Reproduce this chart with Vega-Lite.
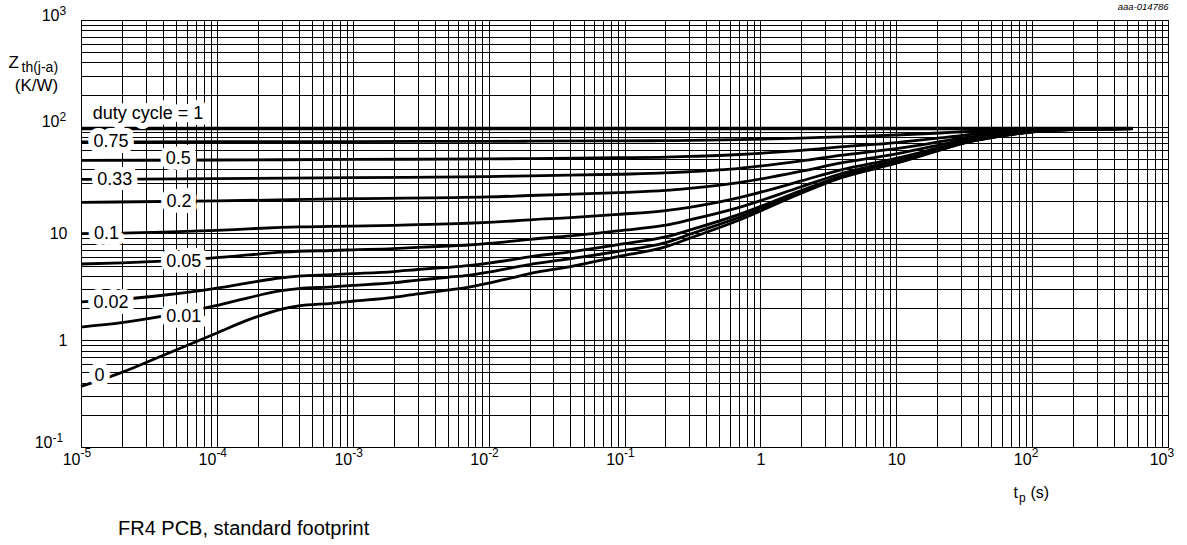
{
  "$schema": "https://vega.github.io/schema/vega-lite/v6.json",
  "width": 1087,
  "height": 427,
  "autosize": {"type": "none"},
  "padding": {"left": 81, "top": 20, "right": 19, "bottom": 98},
  "background": "white",
  "title": {"text": "FR4 PCB, standard footprint", "orient": "bottom", "anchor": "start", "frame": "group", "fontSize": 20, "fontWeight": "normal", "color": "#000", "font": "Liberation Sans", "dx": 37, "offset": 16},
  "config": {
    "font": "Liberation Sans",
    "view": {"stroke": "#000", "strokeWidth": 1},
    "axis": {"labelColor": "#000", "titleColor": "#000", "titleFontWeight": "normal", "labelFont": "Liberation Sans", "titleFont": "Liberation Sans"}
  },
  "datasets": {
    "curves": [
      {"d": "0", "t": 0.00001, "z": 0.37}, {"d": "0", "t": 0.00002, "z": 0.5}, {"d": "0", "t": 0.00004, "z": 0.72}, {"d": "0", "t": 0.0001, "z": 1.17}, {"d": "0", "t": 0.00017, "z": 1.55}, {"d": "0", "t": 0.0003, "z": 1.96}, {"d": "0", "t": 0.0004, "z": 2.1}, {"d": "0", "t": 0.0007, "z": 2.22}, {"d": "0", "t": 0.001, "z": 2.32}, {"d": "0", "t": 0.002, "z": 2.52}, {"d": "0", "t": 0.003, "z": 2.72}, {"d": "0", "t": 0.005, "z": 2.95}, {"d": "0", "t": 0.007, "z": 3.13}, {"d": "0", "t": 0.01, "z": 3.42}, {"d": "0", "t": 0.015, "z": 3.85}, {"d": "0", "t": 0.02, "z": 4.2}, {"d": "0", "t": 0.04, "z": 4.9}, {"d": "0", "t": 0.09, "z": 6.07}, {"d": "0", "t": 0.2, "z": 7.5}, {"d": "0", "t": 0.3, "z": 9.0}, {"d": "0", "t": 0.7, "z": 13.4}, {"d": "0", "t": 2, "z": 23.8}, {"d": "0", "t": 3.85, "z": 32.9}, {"d": "0", "t": 10, "z": 45.5}, {"d": "0", "t": 21, "z": 60.5}, {"d": "0", "t": 31, "z": 70}, {"d": "0", "t": 50, "z": 79}, {"d": "0", "t": 81, "z": 86.8}, {"d": "0", "t": 128, "z": 91.8}, {"d": "0", "t": 224, "z": 94.5}, {"d": "0", "t": 550, "z": 96},
      {"d": "0.01", "t": 0.00001, "z": 1.33}, {"d": "0.01", "t": 0.00002, "z": 1.46}, {"d": "0.01", "t": 0.00004, "z": 1.68}, {"d": "0.01", "t": 0.0001, "z": 2.12}, {"d": "0.01", "t": 0.00017, "z": 2.5}, {"d": "0.01", "t": 0.0003, "z": 2.91}, {"d": "0.01", "t": 0.0004, "z": 3.04}, {"d": "0.01", "t": 0.0007, "z": 3.16}, {"d": "0.01", "t": 0.001, "z": 3.26}, {"d": "0.01", "t": 0.002, "z": 3.46}, {"d": "0.01", "t": 0.003, "z": 3.66}, {"d": "0.01", "t": 0.005, "z": 3.89}, {"d": "0.01", "t": 0.007, "z": 4.06}, {"d": "0.01", "t": 0.01, "z": 4.35}, {"d": "0.01", "t": 0.015, "z": 4.78}, {"d": "0.01", "t": 0.02, "z": 5.12}, {"d": "0.01", "t": 0.04, "z": 5.82}, {"d": "0.01", "t": 0.09, "z": 6.8}, {"d": "0.01", "t": 0.2, "z": 8.2}, {"d": "0.01", "t": 0.3, "z": 9.8}, {"d": "0.01", "t": 0.7, "z": 14.2}, {"d": "0.01", "t": 2, "z": 24.5}, {"d": "0.01", "t": 3.85, "z": 33.5}, {"d": "0.01", "t": 10, "z": 46.0}, {"d": "0.01", "t": 21, "z": 60.9}, {"d": "0.01", "t": 31, "z": 70.3}, {"d": "0.01", "t": 50, "z": 79.2}, {"d": "0.01", "t": 81, "z": 86.9}, {"d": "0.01", "t": 128, "z": 91.9}, {"d": "0.01", "t": 224, "z": 94.5}, {"d": "0.01", "t": 550, "z": 96},
      {"d": "0.02", "t": 0.00001, "z": 2.29}, {"d": "0.02", "t": 0.00002, "z": 2.42}, {"d": "0.02", "t": 0.00004, "z": 2.64}, {"d": "0.02", "t": 0.0001, "z": 3.08}, {"d": "0.02", "t": 0.00017, "z": 3.45}, {"d": "0.02", "t": 0.0003, "z": 3.85}, {"d": "0.02", "t": 0.0004, "z": 3.99}, {"d": "0.02", "t": 0.0007, "z": 4.11}, {"d": "0.02", "t": 0.001, "z": 4.2}, {"d": "0.02", "t": 0.002, "z": 4.4}, {"d": "0.02", "t": 0.003, "z": 4.6}, {"d": "0.02", "t": 0.005, "z": 4.82}, {"d": "0.02", "t": 0.007, "z": 5.0}, {"d": "0.02", "t": 0.01, "z": 5.28}, {"d": "0.02", "t": 0.015, "z": 5.7}, {"d": "0.02", "t": 0.02, "z": 6.05}, {"d": "0.02", "t": 0.04, "z": 6.73}, {"d": "0.02", "t": 0.09, "z": 7.88}, {"d": "0.02", "t": 0.2, "z": 9.28}, {"d": "0.02", "t": 0.3, "z": 10.75}, {"d": "0.02", "t": 0.7, "z": 15.1}, {"d": "0.02", "t": 2, "z": 25.3}, {"d": "0.02", "t": 3.85, "z": 34.2}, {"d": "0.02", "t": 10, "z": 46.5}, {"d": "0.02", "t": 21, "z": 61.2}, {"d": "0.02", "t": 31, "z": 70.5}, {"d": "0.02", "t": 50, "z": 79.4}, {"d": "0.02", "t": 81, "z": 87.0}, {"d": "0.02", "t": 128, "z": 91.9}, {"d": "0.02", "t": 224, "z": 94.5}, {"d": "0.02", "t": 550, "z": 96},
      {"d": "0.05", "t": 0.00001, "z": 5.18}, {"d": "0.05", "t": 0.00002, "z": 5.3}, {"d": "0.05", "t": 0.00004, "z": 5.51}, {"d": "0.05", "t": 0.0001, "z": 5.94}, {"d": "0.05", "t": 0.00017, "z": 6.3}, {"d": "0.05", "t": 0.0003, "z": 6.69}, {"d": "0.05", "t": 0.0004, "z": 6.82}, {"d": "0.05", "t": 0.0007, "z": 6.93}, {"d": "0.05", "t": 0.001, "z": 7.03}, {"d": "0.05", "t": 0.002, "z": 7.22}, {"d": "0.05", "t": 0.003, "z": 7.41}, {"d": "0.05", "t": 0.005, "z": 7.63}, {"d": "0.05", "t": 0.007, "z": 7.8}, {"d": "0.05", "t": 0.01, "z": 8.07}, {"d": "0.05", "t": 0.015, "z": 8.48}, {"d": "0.05", "t": 0.02, "z": 8.82}, {"d": "0.05", "t": 0.04, "z": 9.48}, {"d": "0.05", "t": 0.09, "z": 10.6}, {"d": "0.05", "t": 0.2, "z": 11.95}, {"d": "0.05", "t": 0.3, "z": 13.4}, {"d": "0.05", "t": 0.7, "z": 17.6}, {"d": "0.05", "t": 2, "z": 27.4}, {"d": "0.05", "t": 3.85, "z": 36.1}, {"d": "0.05", "t": 10, "z": 48.1}, {"d": "0.05", "t": 21, "z": 62.3}, {"d": "0.05", "t": 31, "z": 71.3}, {"d": "0.05", "t": 50, "z": 79.9}, {"d": "0.05", "t": 81, "z": 87.3}, {"d": "0.05", "t": 128, "z": 92.0}, {"d": "0.05", "t": 224, "z": 94.6}, {"d": "0.05", "t": 550, "z": 96},
      {"d": "0.1", "t": 0.00001, "z": 9.98}, {"d": "0.1", "t": 0.00002, "z": 10.1}, {"d": "0.1", "t": 0.00004, "z": 10.3}, {"d": "0.1", "t": 0.0001, "z": 10.7}, {"d": "0.1", "t": 0.00017, "z": 11.05}, {"d": "0.1", "t": 0.0003, "z": 11.4}, {"d": "0.1", "t": 0.0004, "z": 11.54}, {"d": "0.1", "t": 0.0007, "z": 11.65}, {"d": "0.1", "t": 0.001, "z": 11.74}, {"d": "0.1", "t": 0.002, "z": 11.92}, {"d": "0.1", "t": 0.003, "z": 12.1}, {"d": "0.1", "t": 0.005, "z": 12.3}, {"d": "0.1", "t": 0.007, "z": 12.47}, {"d": "0.1", "t": 0.01, "z": 12.73}, {"d": "0.1", "t": 0.015, "z": 13.1}, {"d": "0.1", "t": 0.02, "z": 13.43}, {"d": "0.1", "t": 0.04, "z": 14.06}, {"d": "0.1", "t": 0.09, "z": 15.1}, {"d": "0.1", "t": 0.2, "z": 16.4}, {"d": "0.1", "t": 0.3, "z": 17.6}, {"d": "0.1", "t": 0.7, "z": 21.7}, {"d": "0.1", "t": 2, "z": 31.1}, {"d": "0.1", "t": 3.85, "z": 39.3}, {"d": "0.1", "t": 10, "z": 50.6}, {"d": "0.1", "t": 21, "z": 64.1}, {"d": "0.1", "t": 31, "z": 72.6}, {"d": "0.1", "t": 50, "z": 80.7}, {"d": "0.1", "t": 81, "z": 87.8}, {"d": "0.1", "t": 128, "z": 92.3}, {"d": "0.1", "t": 224, "z": 94.7}, {"d": "0.1", "t": 550, "z": 96},
      {"d": "0.2", "t": 0.00001, "z": 19.6}, {"d": "0.2", "t": 0.0001, "z": 20.2}, {"d": "0.2", "t": 0.001, "z": 21.2}, {"d": "0.2", "t": 0.01, "z": 22.0}, {"d": "0.2", "t": 0.02, "z": 22.7}, {"d": "0.2", "t": 0.09, "z": 24.2}, {"d": "0.2", "t": 0.2, "z": 25.3}, {"d": "0.2", "t": 0.3, "z": 26.5}, {"d": "0.2", "t": 0.7, "z": 30.0}, {"d": "0.2", "t": 2, "z": 38.3}, {"d": "0.2", "t": 3.85, "z": 45.6}, {"d": "0.2", "t": 10, "z": 55.7}, {"d": "0.2", "t": 21, "z": 67.7}, {"d": "0.2", "t": 31, "z": 75.3}, {"d": "0.2", "t": 50, "z": 82.5}, {"d": "0.2", "t": 81, "z": 88.7}, {"d": "0.2", "t": 128, "z": 92.7}, {"d": "0.2", "t": 224, "z": 94.9}, {"d": "0.2", "t": 550, "z": 96},
      {"d": "0.33", "t": 0.00001, "z": 32.1}, {"d": "0.33", "t": 0.0001, "z": 32.6}, {"d": "0.33", "t": 0.001, "z": 33.4}, {"d": "0.33", "t": 0.01, "z": 34.1}, {"d": "0.33", "t": 0.02, "z": 34.7}, {"d": "0.33", "t": 0.09, "z": 35.9}, {"d": "0.33", "t": 0.2, "z": 36.9}, {"d": "0.33", "t": 0.3, "z": 37.9}, {"d": "0.33", "t": 0.7, "z": 40.8}, {"d": "0.33", "t": 2, "z": 47.8}, {"d": "0.33", "t": 3.85, "z": 53.9}, {"d": "0.33", "t": 10, "z": 62.3}, {"d": "0.33", "t": 21, "z": 72.4}, {"d": "0.33", "t": 31, "z": 78.7}, {"d": "0.33", "t": 50, "z": 84.8}, {"d": "0.33", "t": 81, "z": 90.0}, {"d": "0.33", "t": 128, "z": 93.4}, {"d": "0.33", "t": 224, "z": 95.2}, {"d": "0.33", "t": 550, "z": 96},
      {"d": "0.5", "t": 0.00001, "z": 48.4}, {"d": "0.5", "t": 0.0001, "z": 48.8}, {"d": "0.5", "t": 0.001, "z": 49.4}, {"d": "0.5", "t": 0.01, "z": 49.96}, {"d": "0.5", "t": 0.02, "z": 50.35}, {"d": "0.5", "t": 0.09, "z": 51.3}, {"d": "0.5", "t": 0.2, "z": 52.0}, {"d": "0.5", "t": 0.3, "z": 52.75}, {"d": "0.5", "t": 0.7, "z": 54.95}, {"d": "0.5", "t": 2, "z": 60.15}, {"d": "0.5", "t": 3.85, "z": 64.7}, {"d": "0.5", "t": 10, "z": 71.0}, {"d": "0.5", "t": 21, "z": 78.5}, {"d": "0.5", "t": 31, "z": 83.2}, {"d": "0.5", "t": 50, "z": 87.7}, {"d": "0.5", "t": 81, "z": 91.6}, {"d": "0.5", "t": 128, "z": 94.1}, {"d": "0.5", "t": 224, "z": 95.5}, {"d": "0.5", "t": 550, "z": 96},
      {"d": "0.75", "t": 0.00001, "z": 72.2}, {"d": "0.75", "t": 0.0001, "z": 72.4}, {"d": "0.75", "t": 0.001, "z": 72.7}, {"d": "0.75", "t": 0.01, "z": 73.0}, {"d": "0.75", "t": 0.02, "z": 73.2}, {"d": "0.75", "t": 0.09, "z": 73.7}, {"d": "0.75", "t": 0.2, "z": 74.1}, {"d": "0.75", "t": 0.3, "z": 74.5}, {"d": "0.75", "t": 0.7, "z": 75.6}, {"d": "0.75", "t": 2, "z": 78.2}, {"d": "0.75", "t": 3.85, "z": 80.5}, {"d": "0.75", "t": 10, "z": 83.7}, {"d": "0.75", "t": 21, "z": 87.4}, {"d": "0.75", "t": 31, "z": 89.8}, {"d": "0.75", "t": 50, "z": 92.0}, {"d": "0.75", "t": 81, "z": 94.0}, {"d": "0.75", "t": 128, "z": 95.2}, {"d": "0.75", "t": 224, "z": 95.8}, {"d": "0.75", "t": 550, "z": 96},
      {"d": "1", "t": 0.00001, "z": 96.4}, {"d": "1", "t": 1, "z": 96.3}, {"d": "1", "t": 550, "z": 96.2}
    ],
    "labels": [
      {"label": "duty cycle = 1", "t": 0.0000311, "z": 131},
      {"label": "0.75", "t": 0.0000166, "z": 71.5},
      {"label": "0.5", "t": 0.000052, "z": 49.5},
      {"label": "0.33", "t": 0.0000177, "z": 32},
      {"label": "0.2", "t": 0.0000526, "z": 19.8},
      {"label": "0.1", "t": 0.0000154, "z": 10},
      {"label": "0.05", "t": 0.000057, "z": 5.44},
      {"label": "0.02", "t": 0.0000166, "z": 2.22},
      {"label": "0.01", "t": 0.000057, "z": 1.65},
      {"label": "0", "t": 0.0000137, "z": 0.465}
    ]
  },
  "layer": [
    {
      "data": {"name": "curves"},
      "transform": [{"filter": "datum.d != '1'"}],
      "mark": {"type": "line", "color": "#000", "strokeWidth": 2.8, "interpolate": "monotone"},
      "encoding": {
        "x": {
          "field": "t", "type": "quantitative",
          "scale": {"type": "log", "domain": [0.00001, 1000], "nice": false},
          "axis": {
            "values": [0.00001,0.00002,0.00003,0.00004,0.00005,0.00006,0.00007,0.00008,0.00009,0.0001,0.0002,0.0003,0.0004,0.0005,0.0006,0.0007,0.0008,0.0009,0.001,0.002,0.003,0.004,0.005,0.006,0.007,0.008,0.009,0.01,0.02,0.03,0.04,0.05,0.06,0.07,0.08,0.09,0.1,0.2,0.3,0.4,0.5,0.6,0.7,0.8,0.9,1,2,3,4,5,6,7,8,9,10,20,30,40,50,60,70,80,90,100,200,300,400,500,600,700,800,900,1000],
            "labelExpr": "datum.value==1?'1':(datum.value==0.00001||datum.value==0.0001||datum.value==0.001||datum.value==0.01||datum.value==0.1||datum.value==10||datum.value==100||datum.value==1000)?'10':''",
            "grid": true, "gridColor": "#000", "gridOpacity": 1, "gridWidth": 1,
            "ticks": false, "domain": false,
            "labelOverlap": false, "labelFlush": false, "labelFontSize": 16, "labelPadding": 4, "labelBaseline": "top",
            "labelAlign": {"condition": {"test": "datum.value==1 || datum.value==10", "value": "center"}, "value": "right"},
            "labelOffset": {"condition": {"test": "datum.value==1 || datum.value==10", "value": 0}, "value": -1},
            "title": "t", "titleFontSize": 16, "titleX": 932, "titleY": 50, "titleAlign": "left", "titleBaseline": "alphabetic"
          }
        },
        "y": {
          "field": "z", "type": "quantitative",
          "scale": {"type": "log", "domain": [0.1, 1000], "nice": false},
          "axis": {
            "values": [0.1,0.2,0.3,0.4,0.5,0.6,0.7,0.8,0.9,1,2,3,4,5,6,7,8,9,10,20,30,40,50,60,70,80,90,100,200,300,400,500,600,700,800,900,1000],
            "labelExpr": "datum.value==1?'1':(datum.value==0.1||datum.value==10||datum.value==100||datum.value==1000)?'10':''",
            "grid": true, "gridColor": "#000", "gridOpacity": 1, "gridWidth": 1,
            "ticks": false, "domain": false,
            "labelOverlap": false, "labelFlush": false, "labelFontSize": 16, "labelAlign": "right",
            "labelPadding": {"condition": [{"test": "datum.value==0.1", "value": 29}, {"test": "datum.value==100 || datum.value==1000", "value": 22}], "value": 14},
            "labelBaseline": {"condition": {"test": "datum.value==1 || datum.value==10", "value": "middle"}, "value": "alphabetic"},
            "title": "Z", "titleFontSize": 17, "titleAngle": 0, "titleX": -73, "titleY": 47, "titleAlign": "left", "titleBaseline": "alphabetic"
          }
        },
        "detail": {"field": "d", "type": "nominal"}
      }
    },
    {
      "data": {"name": "curves"},
      "transform": [{"filter": "datum.d == '1'"}],
      "mark": {"type": "line", "color": "#000", "strokeWidth": 3.4},
      "encoding": {
        "x": {"field": "t", "type": "quantitative", "axis": {"orient": "bottom", "labels": false, "ticks": false, "domain": false, "grid": false, "title": "(s)", "titleFontSize": 16, "titleX": 949, "titleY": 50, "titleAlign": "left", "titleBaseline": "alphabetic"}},
        "y": {"field": "z", "type": "quantitative", "axis": null}
      }
    },
    {
      "data": {"name": "labels"},
      "mark": {"type": "text", "fill": "#fff", "stroke": "#fff", "strokeWidth": 12, "strokeJoin": "round", "fontSize": 18, "align": "center", "baseline": "middle"},
      "encoding": {
        "x": {"field": "t", "type": "quantitative", "axis": {
          "orient": "bottom", "values": [0.00001,0.0001,0.001,0.01,0.1,100,1000],
          "labelExpr": "datum.value==0.00001?'-5':datum.value==0.0001?'-4':datum.value==0.001?'-3':datum.value==0.01?'-2':datum.value==0.1?'-1':datum.value==100?'2':datum.value==1000?'3':''",
          "labelFontSize": 12, "labelAlign": "left", "labelBaseline": "top", "labelPadding": 0, "labelOffset": -1, "labelOverlap": false, "labelFlush": false,
          "ticks": false, "domain": false, "grid": false,
          "title": "p", "titleFontSize": 12, "titleX": 937.5, "titleY": 54, "titleAlign": "left", "titleBaseline": "alphabetic"}},
        "y": {"field": "z", "type": "quantitative", "axis": {
          "orient": "left", "values": [0.1,100,1000],
          "labelExpr": "datum.value==0.1?'-1':datum.value==100?'2':datum.value==1000?'3':''",
          "labelFontSize": 12, "labelAlign": "left", "labelBaseline": "alphabetic",
          "labelPadding": {"condition": {"test": "datum.value==0.1", "value": 29}, "value": 22},
          "labelOffset": -6, "labelOverlap": false, "labelFlush": false,
          "ticks": false, "domain": false, "grid": false,
          "title": "th(j-a)", "titleFontSize": 14, "titleAngle": 0, "titleX": -60, "titleY": 51, "titleAlign": "left", "titleBaseline": "alphabetic"}},
        "text": {"field": "label"}
      }
    },
    {
      "data": {"name": "labels"},
      "mark": {"type": "text", "color": "#000", "fontSize": 18, "align": "center", "baseline": "middle"},
      "encoding": {
        "x": {"field": "t", "type": "quantitative", "axis": {"orient": "top", "labels": false, "ticks": false, "domain": false, "grid": false, "title": "aaa-014786", "titleFontSize": 9.5, "titleFontStyle": "italic", "titleX": 1087, "titleY": -14, "titleAlign": "right", "titleBaseline": "middle"}},
        "y": {"field": "z", "type": "quantitative", "axis": {"orient": "left", "labels": false, "ticks": false, "domain": false, "grid": false, "title": "(K/W)", "titleFontSize": 17, "titleAngle": 0, "titleX": -45, "titleY": 70, "titleAlign": "center", "titleBaseline": "alphabetic"}},
        "text": {"field": "label"}
      }
    }
  ],
  "resolve": {"axis": {"x": "independent", "y": "independent"}}
}
